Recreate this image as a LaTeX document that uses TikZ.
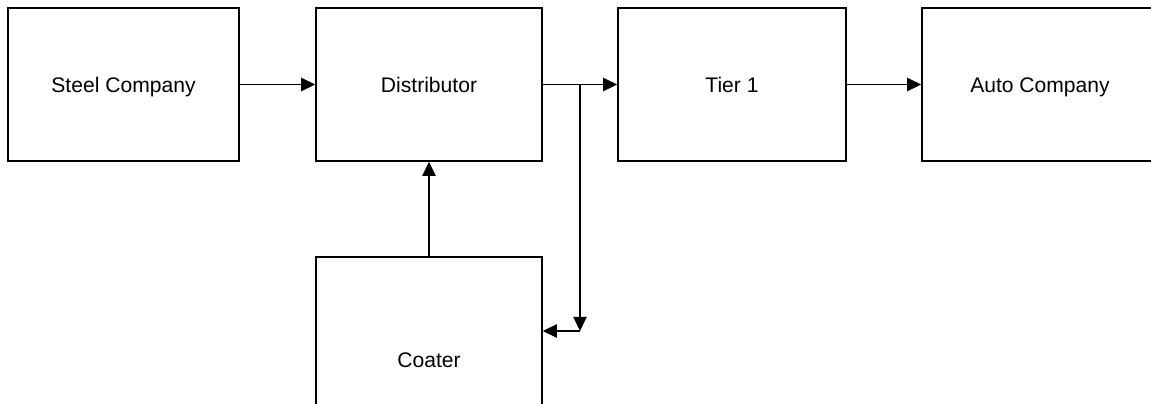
\documentclass[tikz,border=0pt]{standalone}
\usepackage{fontspec}
\setmainfont{Liberation Sans}
\usepackage{tikz}
\usetikzlibrary{arrows.meta}

\begin{document}
\begin{tikzpicture}[
    block/.style={draw, line width=0.8pt, inner sep=0pt, minimum height=3.06cm,
                  text height=8.6pt, text depth=0pt,
                  font=\fontsize{12}{14}\selectfont},
    flow/.style={line width=0.8pt, -{Triangle[length=8pt, width=7.5pt]}}]
  \useasboundingbox (0,0) rectangle (23.02,-8.08);
  \clip (0,0) rectangle (23.02,-8.08);
  % supply chain boxes
  \node[block, minimum width=4.62cm] (steel) at (2.47,-1.69) {Steel Company};
  \node[block, minimum width=4.52cm] (dist) at (8.58,-1.69) {Distributor};
  \node[block, minimum width=4.56cm] (tier) at (14.64,-1.69) {Tier 1};
  \node[block, minimum width=4.72cm] (auto) at (20.80,-1.69) {Auto Company};
  \node[block, minimum width=4.52cm, minimum height=4.12cm] (coater) at (8.58,-7.20) {Coater};
  % flows
  \draw[flow] (steel) -- (dist);
  \draw[flow] (dist) -- (tier);
  \draw[flow] (tier) -- (auto);
  \draw[flow] (coater) -- (dist);
  % branch down to the coater
  \coordinate (split) at (11.60,-1.69);
  \coordinate (turn) at (11.60,-6.62);
  \draw[flow] (split) -- (turn);
  \draw[flow] (turn) -- (coater.east |- turn);
\end{tikzpicture}
\end{document}
